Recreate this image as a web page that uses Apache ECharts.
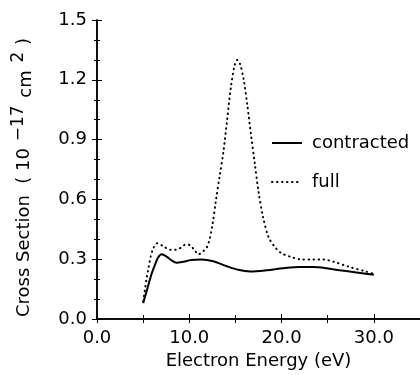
<!DOCTYPE html>
<html>
<head>
<meta charset="utf-8">
<script src="https://cdn.jsdelivr.net/npm/echarts@6/dist/echarts.min.js"></script>
<style>
  html, body { margin: 0; padding: 0; background: #fff; }
  #main { width: 420px; height: 375px; }
</style>
</head>
<body>
<div id="main"></div>
<script>
// contracted (solid)
var contractedX = [5.0, 5.5, 5.9, 6.3, 6.6, 7.0, 7.5, 8.1, 8.6, 9.2, 10.2, 11.3, 12.6, 14.0, 15.3, 16.6, 18.4, 20.2, 22.0, 23.4, 24.9, 26.3, 28.1, 30.0];
var contractedY = [0.08, 0.16, 0.225, 0.275, 0.307, 0.325, 0.315, 0.294, 0.283, 0.286, 0.296, 0.299, 0.29, 0.266, 0.247, 0.239, 0.245, 0.255, 0.261, 0.261, 0.255, 0.245, 0.234, 0.222];
// full (dotted)
var fullX = [5.0, 5.2, 5.4, 5.6, 5.8, 6.1, 6.5, 7.2, 7.9, 8.5, 9.1, 9.6, 10.1, 10.5, 11.0, 11.5, 11.9, 12.2, 12.5, 12.9, 13.3, 13.7, 14.1, 14.5, 14.9, 15.2, 15.5, 15.9, 16.3, 16.7, 17.1, 17.5, 18.0, 18.6, 19.3, 20.0, 21.0, 22.0, 23.4, 24.5, 25.6, 27.4, 29.2, 30.1];
var fullY = [0.09, 0.15, 0.21, 0.26, 0.31, 0.355, 0.38, 0.365, 0.348, 0.348, 0.358, 0.374, 0.37, 0.35, 0.325, 0.34, 0.36, 0.40, 0.47, 0.60, 0.72, 0.84, 1.0, 1.16, 1.27, 1.30, 1.28, 1.20, 1.07, 0.92, 0.78, 0.64, 0.51, 0.41, 0.36, 0.33, 0.312, 0.30, 0.299, 0.299, 0.288, 0.261, 0.238, 0.225];

var seriesNames = ['contracted', 'full'];

function pairs(xs, ys) {
  var res = [];
  for (var i = 0; i < xs.length; i++) res.push([xs[i], ys[i]]);
  return res;
}

var font = 'DejaVu Sans';
var chart = echarts.init(document.getElementById('main'));

var option = {
  backgroundColor: '#ffffff',
  animation: false,
  textStyle: { fontFamily: font, color: '#000' },
  grid: { left: 97, right: 0, top: 20, bottom: 50 },
  legend: {
    orient: 'vertical',
    left: 271,
    top: 134,
    padding: 0,
    itemWidth: 30,
    itemHeight: 14,
    itemGap: 21,
    data: seriesNames,
    itemStyle: { opacity: 0 },
    textStyle: { fontFamily: font, fontSize: 18, color: '#000', padding: [0, 0, 0, 5] }
  },
  xAxis: [
    {
      type: 'value', position: 'bottom', min: 0, max: 35, interval: 10,
      name: 'Electron Energy (eV)', nameLocation: 'middle', nameGap: 31,
      nameTextStyle: { fontFamily: font, fontSize: 18, color: '#000' },
      axisLine: { lineStyle: { color: '#000', width: 1.5 } },
      axisTick: { inside: true, length: 5, lineStyle: { color: '#000' } },
      minorTick: { show: true, splitNumber: 2, length: 4, lineStyle: { color: '#000' } },
      axisLabel: {
        fontFamily: font, fontSize: 18, color: '#000', margin: 10, showMaxLabel: false,
        formatter: function (v) { return v === 35 ? '' : v.toFixed(1); }
      },
      splitLine: { show: false }
    },
    {
      type: 'value', position: 'top', min: 0, max: 35, interval: 5,
      axisLine: { lineStyle: { color: '#000', width: 1.5 } },
      axisTick: { inside: true, length: 4, lineStyle: { color: '#000' } },
      axisLabel: { show: false },
      splitLine: { show: false }
    }
  ],
  yAxis: [
    {
      type: 'value', position: 'left', min: 0, max: 1.5, interval: 0.3,
      name: 'Cross Section  ( 10 {s|\u221217} {c|cm} {s|2} )',
      nameLocation: 'middle', nameGap: 58,
      nameTextStyle: {
        fontFamily: font, fontSize: 18, color: '#000', padding: [0, 16, 0, 0],
        rich: {
          s: { fontFamily: font, fontSize: 17, color: '#000', padding: [0, 1, 12, 1] },
          c: { fontFamily: font, fontSize: 18, color: '#000', padding: [4, 1, 0, 1] }
        }
      },
      axisLine: { lineStyle: { color: '#000', width: 1.5 } },
      axisTick: { inside: true, length: 5, lineStyle: { color: '#000' } },
      minorTick: { show: true, splitNumber: 3, length: 3, lineStyle: { color: '#000' } },
      axisLabel: {
        fontFamily: font, fontSize: 18, color: '#000', margin: 10,
        formatter: function (v) { return v.toFixed(1); }
      },
      splitLine: { show: false }
    },
    {
      type: 'value', position: 'right', min: 0, max: 1.5, interval: 0.3,
      axisLine: { lineStyle: { color: '#000', width: 1.5 } },
      axisTick: { inside: true, length: 5, lineStyle: { color: '#000' } },
      minorTick: { show: true, splitNumber: 3, length: 3, lineStyle: { color: '#000' } },
      axisLabel: { show: false },
      splitLine: { show: false }
    }
  ],
  series: [
    {
      name: seriesNames[0],
      type: 'line',
      xAxisIndex: 0, yAxisIndex: 0,
      symbol: 'none',
      smooth: 0.3,
      color: '#000',
      lineStyle: { color: '#000', width: 2 },
      data: pairs(contractedX, contractedY)
    },
    {
      name: seriesNames[1],
      type: 'line',
      xAxisIndex: 0, yAxisIndex: 0,
      symbol: 'none',
      smooth: 0.3,
      color: '#000',
      lineStyle: { color: '#000', width: 2, type: [0.5, 4.5], cap: 'round' },
      data: pairs(fullX, fullY)
    }
  ]
};

chart.setOption(option);
</script>
</body>
</html>
